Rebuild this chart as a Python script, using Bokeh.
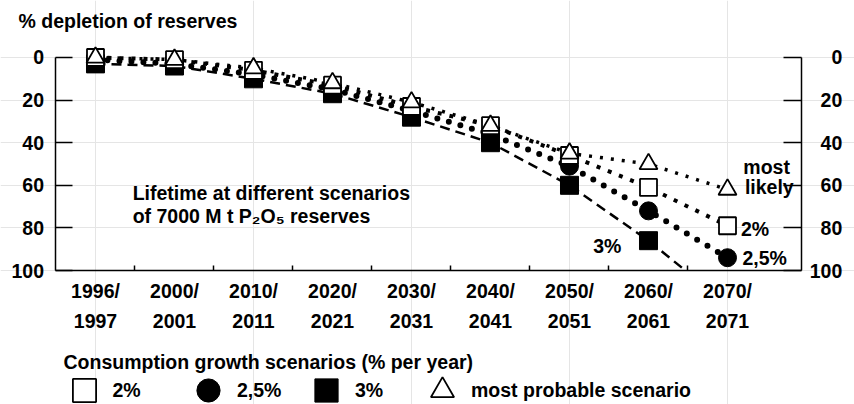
from bokeh.plotting import figure
from bokeh.models import Range1d, LinearAxis, FixedTicker, Label, Legend, LegendItem
from bokeh.embed import file_html
from bokeh.resources import INLINE

categories = ["1996/\n1997", "2000/\n2001", "2010/\n2011", "2020/\n2021", "2030/\n2031",
              "2040/\n2041", "2050/\n2051", "2060/\n2061", "2070/\n2071"]
growth_2 = [0, 1, 6, 13, 23, 32, 46, 61, 79]
growth_25 = [1, 3, 8, 15, 25, 36, 51, 72, 94]
growth_3 = [3, 4, 10, 17, 28, 40, 60, 86, 116]
most_likely = [0, 1, 5, 12, 21, 32, 45, 50, 62]
y_ticks = [0, 20, 40, 60, 80, 100]

FONT = "Liberation Sans"
FS = "19.5px"

xs = list(range(len(categories)))
Y_MIN, Y_MAX = 0, 100
X_LEFT, X_RIGHT = -0.5, 8.94

W, H = 854, 404
p = figure(width=W, height=H, output_backend="svg", toolbar_location=None,
           x_range=Range1d(-1.2025, 9.6076), y_range=Range1d(162.91, -26.76),
           x_axis_location=None, y_axis_location=None)
p.min_border = 0
p.outline_line_color = None
p.background_fill_color = "white"


def style_axis(ax):
    ax.major_label_text_font = FONT
    ax.major_label_text_font_size = FS
    ax.major_label_text_font_style = "bold"
    ax.major_label_text_color = "black"
    ax.axis_line_width = 1.5
    ax.major_tick_line_width = 1.5
    ax.minor_tick_line_width = 1.5


# bottom axis at the 100 % line
xa = LinearAxis(fixed_location=Y_MAX, bounds=(X_LEFT, X_RIGHT),
                ticker=FixedTicker(ticks=xs, minor_ticks=[i + 0.5 for i in xs[:-1]]))
xa.major_label_overrides = {i: c for i, c in zip(xs, categories)}
xa.major_tick_in = 0
xa.major_tick_out = 0
xa.minor_tick_in = 5
xa.minor_tick_out = 0
style_axis(xa)
xa.major_label_standoff = 9
xa.major_label_text_line_height = 1.38
p.add_layout(xa, "below")

# left axis
ya = LinearAxis(fixed_location=X_LEFT, bounds=(Y_MIN, Y_MAX), ticker=FixedTicker(ticks=y_ticks))
ya.major_tick_in = 17
ya.major_tick_out = 0
ya.minor_tick_in = 0
ya.minor_tick_out = 0
style_axis(ya)
ya.major_label_standoff = 12
p.add_layout(ya, "left")

# right axis (its labels are drawn right-aligned below)
ra = LinearAxis(fixed_location=X_RIGHT, bounds=(Y_MIN, Y_MAX), ticker=FixedTicker(ticks=y_ticks))
ra.major_tick_in = 18
ra.major_tick_out = 0
ra.minor_tick_in = 0
ra.minor_tick_out = 0
style_axis(ra)
ra.major_label_text_color = None
p.add_layout(ra, "right")


def clip_at_max(x, y, ymax=Y_MAX):
    """Cut a polyline where it leaves the 0-100 % axis range."""
    cx, cy = [x[0]], [y[0]]
    for i in range(1, len(x)):
        if y[i] <= ymax:
            cx.append(x[i]); cy.append(y[i])
        else:
            t = (ymax - y[i - 1]) / (y[i] - y[i - 1])
            cx.append(x[i - 1] + t * (x[i] - x[i - 1])); cy.append(ymax)
            break
    return cx, cy


# lines
p.line(xs, most_likely, line_width=3.5, line_dash="3 8", color="black")
p.line(xs, growth_2, line_width=4, line_dash="4 8", color="black")
p.line(xs, growth_25, line_width=6, line_dash="0 12", line_cap="round", color="black")
c3x, c3y = clip_at_max(xs, growth_3)
p.line(c3x, c3y, line_width=2.5, line_dash="10 6", color="black")

# markers
vis3 = [(x, v) for x, v in zip(xs, growth_3) if v <= Y_MAX]
r3 = p.scatter([a for a, _ in vis3], [b for _, b in vis3], marker="square", size=18,
               fill_color="black", line_color="black")
r25 = p.scatter(xs, growth_25, marker="circle", size=18, fill_color="black", line_color="black")
r2 = p.scatter(xs, growth_2, marker="square", size=17, fill_color="white", line_color="black",
               line_width=1.8)
rl = p.scatter(xs, most_likely, marker="triangle", size=18, fill_color="white",
               line_color="black", line_width=1.8)


def lab(text, x, y, **kw):
    opts = dict(text_font=FONT, text_font_size=FS, text_font_style="bold",
                text_color="black", text_baseline="middle")
    opts.update(kw)
    p.add_layout(Label(x=x, y=y, text=text, **opts))


# right-axis tick labels, right-aligned
for t in y_ticks:
    lab(str(t), X_RIGHT, t, x_offset=40.5, text_align="right")

# in-plot annotations (data coordinates)
lab("Lifetime at different scenarios", 0.47, 63.5)
lab("of 7000 M t P\u2082O\u2085 reserves", 0.47, 74.5)
lab("most", 8.2, 51.5)
lab("likely", 8.22, 61)
lab("2%", 8.17, 80.3)
lab("2,5%", 8.19, 94)
lab("3%", 6.3, 88.3)

# axis title and legend title (screen px from the bottom-left corner)
lab("% depletion of reserves", 18, H - 20.5, x_units="screen", y_units="screen")
lab("Consumption growth scenarios (% per year)", 63, H - 361, x_units="screen", y_units="screen")

# legend entries
ROW = 390
for rend, text, cx in [(r2, "2%", 83.5), (r25, "2,5%", 208), (r3, "3%", 326),
                       (rl, "most probable scenario", 442)]:
    lg = Legend(items=[LegendItem(label=text, renderers=[rend])],
                location=(cx - 29, H - ROW - 29),
                orientation="horizontal", glyph_width=58, glyph_height=58,
                label_standoff=0, padding=0, margin=0, border_line_color=None,
                background_fill_alpha=0, label_text_font=FONT, label_text_font_size=FS,
                label_text_font_style="bold", label_text_color="black")
    p.add_layout(lg, "center")

open("out.html", "w").write(file_html(p, INLINE))
